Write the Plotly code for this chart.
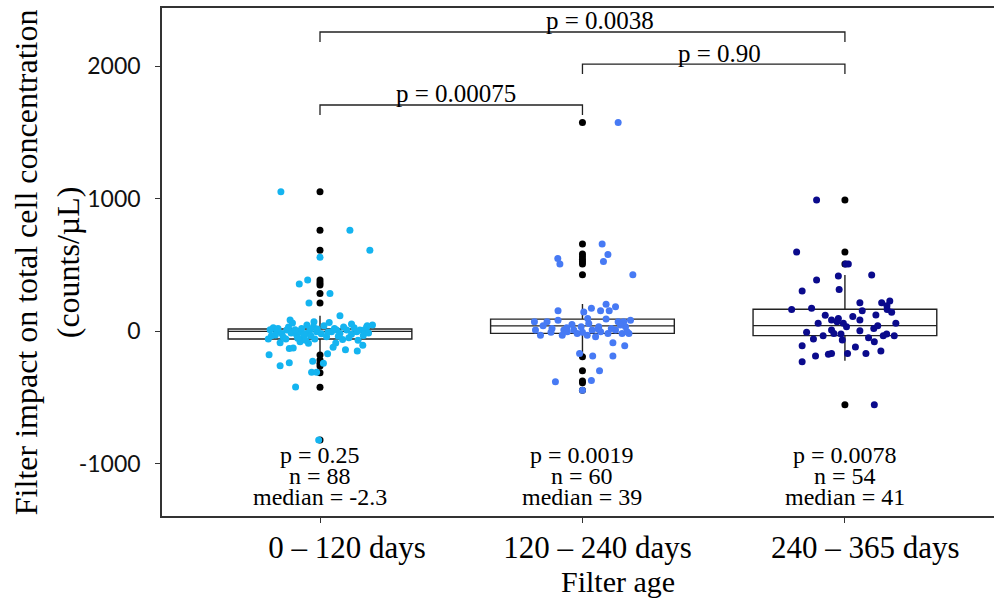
import plotly.graph_objects as go

# ---------------- data ----------------
categories = ["0 – 120 days", "120 – 240 days", "240 – 365 days"]
positions = [1, 2, 3]
colors = ["#14B4F0", "#477AF4", "#0A0A8C"]

# box statistics (counts/µL)
q1s = [-60, -18, -35]
medians = [-2.3, 39, 41]
q3s = [15, 90, 164]
lower_whiskers = [-158, -181, -224]
upper_whiskers = [115, 204, 423]

# outliers (drawn in black at the group centre)
g1_outliers = [1051, 760, 609, 385, 365, 347, 284, 211, -181, -219, -244, -264, -314, -425, -823]
g2_outliers = [1574, 656, 581, 560, 540, 523, 505, 425, -194, -300, -378, -391, -446]
g3_outliers = [989, 596, 506, -556]

# jittered observations: horizontal jitter (category units) and value
g1_jitter = [-0.149, 0.114, 0.19, 0.0, -0.047, -0.079, 0.038, -0.042, 0.076, -0.114,
             -0.023, 0.12, 0.18, -0.178, -0.165, -0.146, -0.127, -0.102, -0.089, -0.076,
             -0.063, -0.051, -0.038, -0.025, -0.013, -0.197, -0.152, -0.117, -0.102, -0.076,
             -0.044, 0.025, 0.044, 0.063, 0.076, 0.086, 0.102, 0.12, 0.14, 0.152,
             0.165, 0.178, 0.163, 0.142, 0.097, 0.05, 0.029, 0.013, -0.028, -0.032,
             -0.013, -0.117, -0.152, -0.194, -0.093, -0.005, -0.19, -0.17, -0.16, -0.14,
             -0.13, -0.12, -0.11, -0.095, -0.085, -0.07, -0.06, -0.05, -0.035, -0.02,
             -0.01, 0.005, 0.015, 0.03, 0.055, 0.07, 0.09, 0.11, 0.13, 0.145,
             0.17, 0.185, 0.2, -0.105, -0.055, 0.035, 0.06, -0.185]
g1_values = [1051, 760, 609, 556, 385, 355, 284, 211, 116, 83,
             70, 53, 40, 25, -5, -18, 7, -5, -30, -5,
             -43, -18, 7, 33, -5, -61, -88, -131, -128, -81,
             -93, -43, -5, 7, -18, -63, 7, -25, -5, 7,
             -33, 33, -108, -151, -141, -123, -171, -244, -229, -312,
             -312, -239, -262, -179, -423, -823, 10, -30, 20, -45,
             -60, 30, -15, 10, -55, 20, -25, 45, -35, -60,
             15, -20, 40, -10, 20, -40, 30, -50, 25, -70,
             10, -15, 45, 60, -70, 65, -90, -35]

g2_jitter = [0.136, 0.075, 0.097, -0.094, -0.086, 0.08, 0.192, -0.093, 0.005, 0.034,
             0.069, 0.09, 0.102, 0.126, -0.183, -0.135, -0.093, -0.179, -0.16, -0.116,
             -0.071, -0.077, -0.058, -0.033, -0.02, -0.005, 0.024, 0.018, 0.037, 0.05,
             0.062, 0.069, 0.09, 0.097, 0.126, 0.136, 0.151, 0.164, 0.177, 0.183,
             0.157, 0.116, 0.161, -0.011, 0.039, 0.116, 0.065, -0.103, 0.034, 0.0,
             -0.15, -0.04, 0.0, 0.145, 0.11, -0.12, 0.06, 0.17, -0.06, 0.02]
g2_values = [1574, 656, 578, 548, 505, 525, 425, 153, 143, 171,
             153, 203, 153, 183, 70, 70, 82, 7, -31, 19,
             7, -31, -6, 7, -18, 32, 57, -31, 7, -43,
             32, -6, 90, -18, 7, 70, -18, 32, -18, 82,
             70, -89, -111, -169, -189, -189, -300, -383, -373, -446,
             40, 50, -10, 45, 20, -10, 15, -5, 25, 95]

g3_jitter = [-0.108, -0.184, 0.013, 0.003, 0.102, -0.108, -0.025, -0.163, -0.022, -0.203,
             -0.127, 0.057, 0.14, 0.171, 0.066, 0.161, 0.178, 0.118, -0.051, -0.025,
             0.057, -0.006, -0.102, 0.194, 0.006, 0.11, -0.146, -0.051, -0.042, 0.057,
             -0.083, -0.015, 0.159, 0.146, 0.188, -0.01, 0.112, -0.163, 0.137, 0.08,
             0.01, -0.063, -0.051, -0.112, -0.163, 0.112, -0.03, 0.03, 0.09, -0.12,
             0.16, -0.075, 0.04, 0.125]
g3_values = [989, 596, 506, 506, 422, 385, 415, 302, 314, 163,
             171, 214, 214, 226, 153, 163, 141, 121, 83, 95,
             83, 58, 58, 58, 32, 20, -10, 7, -18, 2,
             -35, -23, -23, -35, -35, -68, -81, -111, -151, -169,
             -169, -176, -169, -189, -232, -556, 70, 110, -50, -60,
             190, 120, -120, 40]

# per-group summary text
group_p = ["p = 0.25", "p = 0.0019", "p = 0.0078"]
group_n = ["n = 88", "n = 60", "n = 54"]
group_median_text = ["median = -2.3", "median = 39", "median = 41"]

# pairwise comparisons
bracket_pairs = [(1, 3), (2, 3), (1, 2)]
bracket_heights = [2257, 2015, 1706]
bracket_labels = ["p = 0.0038", "p = 0.90", "p = 0.00075"]

y_ticks = [-1000, 0, 1000, 2000]
y_tick_text = ["-1000", "0", "1000", "2000"]

# ---------------- figure ----------------
SERIF = "Liberation Serif"
fig = go.Figure()

for i, pos in enumerate(positions):
    fig.add_trace(go.Box(
        x=[pos], q1=[q1s[i]], median=[medians[i]], q3=[q3s[i]],
        lowerfence=[lower_whiskers[i]], upperfence=[upper_whiskers[i]],
        width=0.7, whiskerwidth=0, fillcolor="white",
        line=dict(color="#222222", width=1.4), boxpoints=False,
        hoverinfo="skip", showlegend=False))

outliers = [g1_outliers, g2_outliers, g3_outliers]
jitters = [g1_jitter, g2_jitter, g3_jitter]
values = [g1_values, g2_values, g3_values]

for i, pos in enumerate(positions):
    fig.add_trace(go.Scatter(
        x=[pos] * len(outliers[i]), y=outliers[i], mode="markers",
        marker=dict(color="black", size=7), hoverinfo="skip", showlegend=False))

for i, pos in enumerate(positions):
    fig.add_trace(go.Scatter(
        x=[pos + j for j in jitters[i]], y=values[i], mode="markers",
        marker=dict(color=colors[i], size=7), showlegend=False))

# brackets
tip = 76
for (a, b), h in zip(bracket_pairs, bracket_heights):
    fig.add_trace(go.Scatter(
        x=[a, a, b, b], y=[h - tip, h, h, h - tip], mode="lines",
        line=dict(color="#222222", width=1.3), hoverinfo="skip", showlegend=False))

annotations = []
label_x = [2.067, 2.524, 1.518]
label_y = [2347, 2098, 1789]
for txt, lx, ly in zip(bracket_labels, label_x, label_y):
    annotations.append(dict(x=lx, y=ly, xref="x", yref="y", text=txt, showarrow=False,
                            font=dict(family=SERIF, size=25, color="black"),
                            xanchor="center", yanchor="middle"))

for i, pos in enumerate(positions):
    for txt, yy in zip([group_p[i], group_n[i], group_median_text[i]], [-935, -1095, -1255]):
        annotations.append(dict(x=pos, y=yy, xref="x", yref="y", text=txt, showarrow=False,
                                font=dict(family=SERIF, size=24, color="black"),
                                xanchor="center", yanchor="middle", borderpad=0))

annotations.append(dict(x=0.548, y=-0.128, xref="paper", yref="paper", text="Filter age",
                        showarrow=False, font=dict(family=SERIF, size=30, color="black"),
                        xanchor="center", yanchor="middle", borderpad=0))
annotations.append(dict(x=-0.138, y=0.5, xref="paper", yref="paper",
                        text="Filter impact on total cell concentration<br>(counts/µL)",
                        textangle=-90, showarrow=False,
                        font=dict(family=SERIF, size=32, color="black"),
                        xanchor="center", yanchor="middle"))

fig.update_layout(
    width=994, height=601,
    margin=dict(l=162, r=0, t=8, b=85),
    plot_bgcolor="white", paper_bgcolor="white",
    showlegend=False,
    annotations=annotations,
    xaxis=dict(
        range=[0.398, 3.568], showgrid=False, zeroline=False,
        showline=True, linecolor="#333333", linewidth=1.5, mirror=True,
        tickmode="array", tickvals=[1.103, 2.057, 3.078], ticktext=categories,
        ticks="", ticklabelstandoff=3,
        tickfont=dict(family=SERIF, size=31, color="black"),
        minor=dict(tickvals=positions, ticks="outside", ticklen=5,
                   tickcolor="#333333", tickwidth=1.2, showgrid=False),
    ),
    yaxis=dict(
        range=[-1396, 2438], showgrid=False, zeroline=False,
        showline=True, linecolor="#333333", linewidth=1.5,
        tickmode="array", tickvals=y_ticks, ticktext=y_tick_text,
        ticks="outside", ticklen=5, tickcolor="#333333", tickwidth=1.2,
        ticklabelstandoff=10,
        tickfont=dict(family="Lato", size=23, color="#111111"),
    ),
)

fig.write_html("out.html")
